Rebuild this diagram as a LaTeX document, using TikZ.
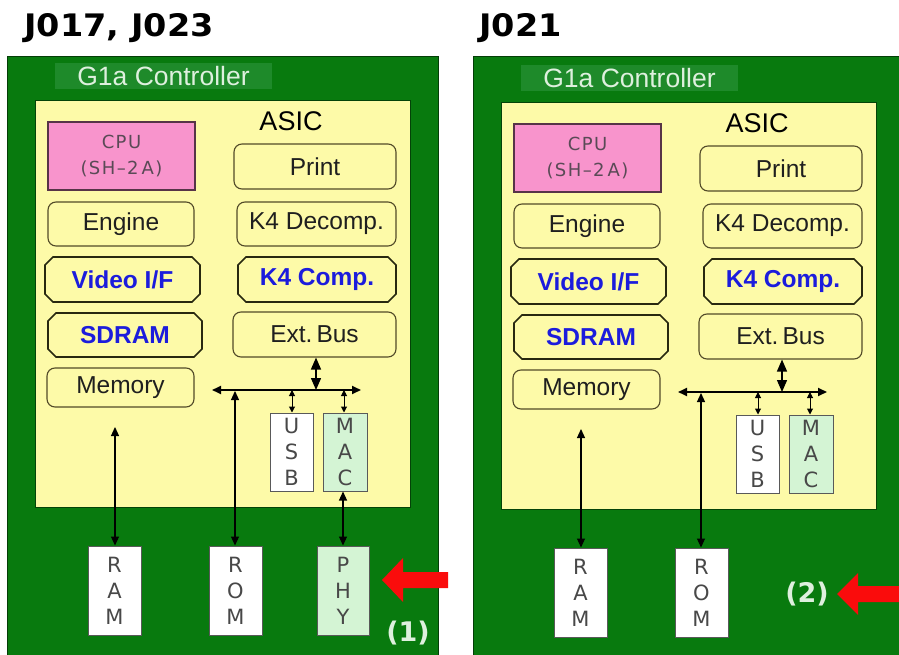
\documentclass[tikz,border=0pt]{standalone}
\usepackage{fontspec}
\setmainfont{Liberation Sans}
\newfontfamily\heavyfont{DejaVu Sans}
\newfontfamily\widefont{DejaVu Sans}
\usetikzlibrary{arrows.meta,shapes.misc}
\definecolor{pcbgreen}{RGB}{8,122,14}
\definecolor{labelgreen}{RGB}{30,138,42}
\definecolor{labeltext}{RGB}{222,240,222}
\definecolor{asicyellow}{RGB}{253,250,168}
\definecolor{cpupink}{RGB}{248,148,204}
\definecolor{cputext}{RGB}{90,74,86}
\definecolor{macgreen}{RGB}{212,244,212}
\definecolor{boxline}{RGB}{82,74,40}
\definecolor{darkline}{RGB}{40,40,16}
\definecolor{bluetext}{RGB}{28,28,220}
\definecolor{graytext}{RGB}{72,72,72}
\definecolor{arrowred}{RGB}{250,12,12}
\tikzset{
  rbox/.style={draw=boxline, line width=1.1pt, rounded corners=8pt, fill=asicyellow,
    text=black!88, font=\fontsize{24.5}{26}\selectfont, inner sep=0pt},
  cbox/.style={chamfered rectangle, chamfered rectangle xsep=4pt, chamfered rectangle ysep=4pt,
    draw=darkline, line width=1.6pt, fill=asicyellow, text=bluetext,
    font=\bfseries\fontsize{24.5}{26}\selectfont, inner sep=0pt},
  cpubox/.style={draw=black!65!cpupink, line width=1.2pt, fill=cpupink, text=cputext, align=center,
    font=\widefont\fontsize{18}{26}\selectfont\addfontfeatures{LetterSpace=8}, inner sep=0pt},
  letterbox/.style={draw=black!65, line width=1pt, fill=white, text=graytext, align=center,
    font=\widefont\fontsize{21}{26}\selectfont, inner sep=0pt},
  greenletterbox/.style={letterbox, fill=macgreen},
  biarrow/.style={line width=1.2pt, arrows={Triangle[length=9pt,width=8pt]-Triangle[length=9pt,width=8pt]}},
  bigarrow/.style={line width=1.4pt, arrows={Triangle[length=12pt,width=10pt]-Triangle[length=12pt,width=10pt]}},
  smallarrow/.style={line width=1pt, arrows={Triangle[length=6pt,width=6pt]-Triangle[length=6pt,width=6pt]}},
  busline/.style={line width=1.8pt, arrows={Triangle[length=9pt,width=8pt]-Triangle[length=9pt,width=8pt]}},
  titletext/.style={anchor=base west, font=\heavyfont\bfseries\fontsize{31}{31}\selectfont},
  marktext/.style={text=labeltext, font=\heavyfont\bfseries\fontsize{27}{27}\selectfont, inner sep=0pt},
  redarrow/.style={fill=arrowred}
}
\newcommand\boardpanel[1]{%
  \filldraw[fill=asicyellow, draw=black!45!pcbgreen, line width=0.8pt] (35,100) rectangle (410,507);
  \node[fill=labelgreen, minimum width=217pt, minimum height=26pt, inner sep=0pt, text=labeltext,
    font=\fontsize{26.5}{27}\selectfont] (#1lab) at (163.5,76) {G1a Controller};
  \node[font=\fontsize{27}{28}\selectfont, inner sep=0pt] (#1asic) at (291,121) {ASIC};
  \node[cpubox, minimum width=147pt, minimum height=68pt] (#1cpu) at (121.5,156) {CPU\\(SH–2\,A)};
  \node[rbox, minimum width=162pt, minimum height=45pt] (#1print) at (315,166.5) {Print};
  \node[rbox, minimum width=146pt, minimum height=44pt] (#1engine) at (121,224) {Engine};
  \node[rbox, minimum width=159pt, minimum height=44pt] (#1kdec) at (316.5,224) {K4 Decomp.};
  \node[cbox, minimum width=155pt, minimum height=45pt] (#1video) at (122.5,279.5) {Video I/F};
  \node[cbox, minimum width=158pt, minimum height=45pt] (#1kcomp) at (317,279.5) {K4 Comp.};
  \node[cbox, minimum width=154pt, minimum height=44pt] (#1sdram) at (125,335) {SDRAM};
  \node[rbox, minimum width=163pt, minimum height=45pt] (#1extbus) at (314.5,334.5) {Ext.\,Bus};
  \node[rbox, minimum width=147pt, minimum height=39pt] (#1memory) at (120.5,387.5) {Memory};
  \node[letterbox, minimum width=43pt, minimum height=78pt] (#1usb) at (291.5,452) {U\\S\\B};
  \node[greenletterbox, minimum width=44pt, minimum height=78pt] (#1mac) at (345,452) {M\\A\\C};
  \node[letterbox, minimum width=53pt, minimum height=89pt] (#1ram) at (114.5,590.5) {R\\A\\M};
  \node[letterbox, minimum width=53pt, minimum height=89pt] (#1rom) at (235.5,590.5) {R\\O\\M};
  \coordinate (#1busL) at (212,390);
  \coordinate (#1busR) at (361,390);
  \coordinate (#1busext) at (316,390);
  \coordinate (#1busrom) at (235,391);
  \coordinate (#1bususb) at (292,390);
  \coordinate (#1busmac) at (344,390);
  \coordinate (#1ramtop) at (115,427);
  \draw[busline] (#1busL) -- (#1busR);
  \draw[bigarrow] (#1extbus.south -| #1busext) -- (#1busext);
  \draw[smallarrow] (#1bususb) -- (#1bususb |- #1usb.north);
  \draw[smallarrow] (#1busmac) -- (#1busmac |- #1mac.north);
  \draw[biarrow] (#1busrom) -- (#1busrom |- #1rom.north);
  \draw[biarrow] (#1ramtop) -- (#1ramtop |- #1ram.north);
}
\begin{document}
\begin{tikzpicture}[x=1pt,y=-1pt]
  \useasboundingbox (0,0) rectangle (899,655);
  \fill[white] (0,0) rectangle (899,655);
  % titles
  \node[titletext] (t1) at (21,37) {\scalebox{1.08}[1]{J017, J023}};
  \node[titletext] (t2) at (476,37) {\scalebox{1.08}[1]{J021}};
  % boards
  \filldraw[fill=pcbgreen, draw=black!50!pcbgreen, line width=0.8pt] (7,56) rectangle (438,662);
  \filldraw[fill=pcbgreen, draw=black!50!pcbgreen, line width=0.8pt] (473,56) rectangle (910,662);
  \boardpanel{L}
  \node[greenletterbox, minimum width=52pt, minimum height=89pt] (Lphy) at (343,590.5) {P\\H\\Y};
  \draw[biarrow] (Lmac.south -| Lphy.north) -- (Lphy.north);
  \begin{scope}[shift={(466,2)}]
    \boardpanel{R}
  \end{scope}
  % markers
  \fill[redarrow] (382,580) -- (403,558) -- (403,572) -- (448,572) -- (448,588) -- (403,588) -- (403,602) -- cycle;
  \node[marktext] (m1) at (408,633) {(1)};
  \fill[redarrow] (837,594) -- (858,573) -- (858,586) -- (899,586) -- (899,602) -- (858,602) -- (858,615) -- cycle;
  \node[marktext] (m2) at (807,594) {(2)};
\end{tikzpicture}
\end{document}
